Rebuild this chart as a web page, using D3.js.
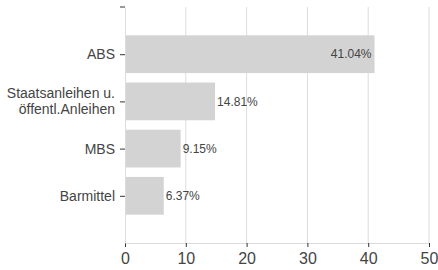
<!DOCTYPE html>
<html>
<head>
<meta charset="utf-8">
<script src="https://cdn.jsdelivr.net/npm/d3@7"></script>
<style>
  body { margin: 0; background: #fff; }
  svg { display: block; font-family: "Liberation Sans", Arial, sans-serif; }
</style>
</head>
<body>
<div id="chart"></div>
<script>
// Data
var categories = ["ABS", "Staatsanleihen u.|öffentl.Anleihen", "MBS", "Barmittel"];
var values = [41.04, 14.81, 9.15, 6.37];
var xTicks = [0, 10, 20, 30, 40, 50];

var width = 438,
    height = 270,
    margin = { top: 7, right: 9, bottom: 27, left: 125 },
    textColor = "#444",
    gridColor = "#dcdcdc",
    barColor = "#d3d3d3";

var innerW = width - margin.left - margin.right,
    innerH = height - margin.top - margin.bottom;

var svg = d3.select("#chart").append("svg")
    .attr("width", width)
    .attr("height", height);

var g = svg.append("g")
    .attr("transform", "translate(" + margin.left + "," + margin.top + ")");

var x = d3.scaleLinear().domain([0, 50]).range([0, innerW]);
var y = d3.scalePoint().domain(categories).range([0, innerH]).padding(1);
var barH = y.step() * 0.8;

// Vertical grid lines
g.append("g").selectAll("line")
  .data(xTicks.slice(1))
  .enter().append("line")
  .attr("x1", function (d) { return x(d); })
  .attr("x2", function (d) { return x(d); })
  .attr("y1", 0)
  .attr("y2", innerH)
  .attr("stroke", gridColor)
  .attr("stroke-width", 1);

// Bars
g.append("g").selectAll("rect")
  .data(categories)
  .enter().append("rect")
  .attr("x", x(0))
  .attr("y", function (d) { return y(d) - barH / 2; })
  .attr("width", function (d, i) { return x(values[i]) - x(0); })
  .attr("height", barH)
  .attr("fill", barColor);

// Value labels: inside for the long bar, outside otherwise
g.append("g").selectAll("text")
  .data(categories)
  .enter().append("text")
  .attr("x", function (d, i) {
    var xe = x(values[i]);
    return values[i] > 30 ? xe - 3 : xe + 2;
  })
  .attr("y", function (d) { return y(d); })
  .attr("dy", "0.35em")
  .attr("text-anchor", function (d, i) { return values[i] > 30 ? "end" : "start"; })
  .attr("font-size", 12)
  .attr("fill", textColor)
  .text(function (d, i) { return values[i].toFixed(2) + "%"; });

// X axis
var xAxis = g.append("g")
  .attr("transform", "translate(0," + innerH + ")")
  .call(d3.axisBottom(x).tickValues(xTicks).tickSize(4).tickSizeOuter(0).tickPadding(6));
xAxis.select(".domain").attr("stroke", gridColor);
xAxis.selectAll(".tick line").attr("stroke", "#333");
xAxis.selectAll(".tick text")
  .attr("font-size", 16)
  .attr("font-family", "Liberation Sans, Arial, sans-serif")
  .attr("fill", textColor);

// Y axis
var yAxis = g.append("g")
  .call(d3.axisLeft(y).tickSize(5).tickSizeOuter(0).tickPadding(5));
yAxis.select(".domain").attr("stroke", gridColor);
yAxis.selectAll(".tick line").attr("stroke", "#333");
yAxis.selectAll(".tick text")
  .attr("font-size", 14)
  .attr("font-family", "Liberation Sans, Arial, sans-serif")
  .attr("fill", textColor)
  .text(null)
  .each(function (d) {
    var lines = d.split("|"),
        t = d3.select(this);
    lines.forEach(function (s, k) {
      t.append("tspan")
        .attr("x", -10)
        .attr("dy", k === 0 ? (0.32 - (lines.length - 1) * 0.57) + "em" : "1.14em")
        .text(s);
    });
  })
  .attr("dy", null);

// Outer tick at the top end of the y axis
g.append("line")
  .attr("x1", -5).attr("x2", 0)
  .attr("y1", y.range()[0]).attr("y2", y.range()[0])
  .attr("stroke", "#333");
</script>
</body>
</html>
